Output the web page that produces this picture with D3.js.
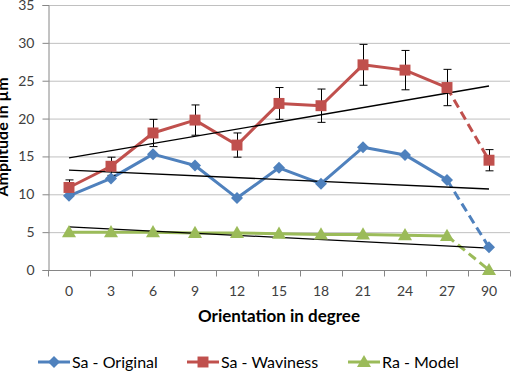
<!DOCTYPE html>
<html>
<head>
<meta charset="utf-8">
<script src="https://cdn.jsdelivr.net/npm/d3@7"></script>
<style>
  body { margin: 0; background: #fff; }
  svg { display: block; font-family: Lato, "Open Sans", sans-serif; }
</style>
</head>
<body>
<div id="chart"></div>
<script>
const categories = ["0", "3", "6", "9", "12", "15", "18", "21", "24", "27", "90"];
const saOriginal = [9.8, 12.1, 15.3, 13.8, 9.5, 13.5, 11.4, 16.2, 15.2, 11.9, 3.0];
const saWaviness = [10.9, 13.7, 18.1, 19.8, 16.5, 22.0, 21.7, 27.1, 26.4, 24.1, 14.5];
const saWavinessErr = [1.0, 1.2, 1.8, 2.0, 1.6, 2.1, 2.2, 2.7, 2.6, 2.4, 1.4];
const raModel = [5.0, 5.0, 5.0, 4.9, 4.9, 4.8, 4.7, 4.7, 4.6, 4.5, 0.0];
// linear trend lines, start/end values
const trendOriginal = [13.2, 10.7];
const trendWaviness = [14.8, 24.3];
const trendModel = [5.7, 2.9];
const yTicks = [0, 5, 10, 15, 20, 25, 30, 35];

const width = 512, height = 376;
const plot = { left: 48, right: 510, top: 5, bottom: 270 };

const svg = d3.select("#chart").append("svg")
    .attr("width", width).attr("height", height);

const xBand = d3.scaleBand().domain(categories).range([plot.left, plot.right]);
const x = d3.scalePoint().domain(categories).range([plot.left, plot.right]).padding(0.5);
const y = d3.scaleLinear().domain([0, 35]).range([plot.bottom, plot.top]);

// gridlines
svg.append("g")
    .attr("transform", `translate(${plot.left},0)`)
    .call(d3.axisLeft(y).tickValues(yTicks.filter(d => d > 0)).tickSize(-(plot.right - plot.left)).tickFormat(""))
    .call(g => g.select(".domain").remove())
    .call(g => g.selectAll("line").attr("stroke", "#c0c0c0").attr("stroke-width", 1));

// y axis
svg.append("g")
    .attr("transform", `translate(${plot.left + 0.5},0)`)
    .call(d3.axisLeft(y).tickValues(yTicks).tickSize(6).tickPadding(8))
    .call(g => g.select(".domain").attr("stroke", "#868686"))
    .call(g => g.selectAll("line").attr("stroke", "#868686"))
    .call(g => g.selectAll("text").attr("fill", "#404040").style("font-size", "14px").style("font-family", "Lato, sans-serif"));

// x axis: ticks on category boundaries
const xAxis = svg.append("g").attr("transform", `translate(0,${plot.bottom + 0.5})`);
xAxis.append("line")
    .attr("x1", plot.left).attr("x2", plot.right)
    .attr("stroke", "#868686");
xAxis.selectAll("line.tick")
    .data(categories.concat(["end"]))
    .join("line")
    .attr("class", "tick")
    .attr("x1", (d, i) => Math.round(i < categories.length ? xBand(d) : plot.right) + 0.5)
    .attr("x2", (d, i) => Math.round(i < categories.length ? xBand(d) : plot.right) + 0.5)
    .attr("y1", 0).attr("y2", 6)
    .attr("stroke", "#868686");
xAxis.selectAll("text")
    .data(categories)
    .join("text")
    .attr("x", d => x(d))
    .attr("y", 25)
    .attr("text-anchor", "middle")
    .attr("fill", "#404040")
    .style("font-size", "14px")
    .text(d => d);

// axis titles
svg.append("text")
    .attr("x", 279)
    .attr("y", 322)
    .attr("text-anchor", "middle")
    .style("font-size", "17px").style("font-weight", "bold")
    .text("Orientation in degree");

svg.append("text")
    .attr("transform", "translate(8,137) rotate(-90)")
    .attr("text-anchor", "middle")
    .style("font-size", "16px").style("font-weight", "bold")
    .text("Amplitude in µm");

const series = [
    { name: "Sa - Original", values: saOriginal, color: "#4F81BD", marker: d3.symbolSquare, rot: 45, dy: 0, size: 72, trend: trendOriginal },
    { name: "Sa - Waviness", values: saWaviness, color: "#C0504D", marker: d3.symbolSquare, rot: 0, dy: 0, size: 120, trend: trendWaviness, err: saWavinessErr },
    { name: "Ra - Model", values: raModel, color: "#9BBB59", marker: d3.symbolTriangle, rot: 0, dy: 1, size: 85, trend: trendModel }
];

const line = d3.line().x(d => x(d.c)).y(d => y(d.v));
const n = categories.length;

series.forEach(s => {
    const pts = s.values.map((v, i) => ({ c: categories[i], v }));
    // error bars
    if (s.err) {
        const eb = svg.append("g").attr("stroke", "#000").attr("stroke-width", 1);
        pts.forEach((p, i) => {
            const cx = Math.round(x(p.c)) + 0.5;
            const top = y(p.v + s.err[i]), bot = y(p.v - s.err[i]);
            eb.append("line").attr("x1", cx).attr("x2", cx).attr("y1", top).attr("y2", bot);
            eb.append("line").attr("x1", cx - 4).attr("x2", cx + 4).attr("y1", top).attr("y2", top);
            eb.append("line").attr("x1", cx - 4).attr("x2", cx + 4).attr("y1", bot).attr("y2", bot);
        });
    }
    svg.append("path").datum(pts.slice(0, n - 1))
        .attr("fill", "none").attr("stroke", s.color).attr("stroke-width", 3)
        .attr("stroke-linejoin", "round").attr("d", line);
    svg.append("path").datum(pts.slice(n - 2))
        .attr("fill", "none").attr("stroke", s.color).attr("stroke-width", 3)
        .attr("stroke-dasharray", "9,5").attr("d", line);
});

// trend lines
series.forEach(s => {
    svg.append("line")
        .attr("x1", x(categories[0])).attr("y1", y(s.trend[0]))
        .attr("x2", x(categories[n - 1])).attr("y2", y(s.trend[1]))
        .attr("stroke", "#000").attr("stroke-width", 1.3);
});

// markers
series.forEach(s => {
    svg.append("g").selectAll("path")
        .data(s.values.map((v, i) => ({ c: categories[i], v })))
        .join("path")
        .attr("transform", d => `translate(${x(d.c)},${y(d.v) + s.dy}) rotate(${s.rot})`)
        .attr("d", d3.symbol().type(s.marker).size(s.size))
        .attr("fill", s.color);
});

// legend
const legendPos = [38, 187, 348];
series.forEach((s, i) => {
    const g = svg.append("g").attr("transform", `translate(${legendPos[i]},362)`);
    g.append("line").attr("x1", 0).attr("x2", 32)
        .attr("stroke", s.color).attr("stroke-width", 3);
    g.append("path")
        .attr("transform", `translate(16,${s.dy}) rotate(${s.rot})`)
        .attr("d", d3.symbol().type(s.marker).size(s.size))
        .attr("fill", s.color);
    g.append("text")
        .attr("x", 34).attr("y", 5.5)
        .attr("fill", "#000")
        .style("font-size", "16px")
        .text(s.name);
});
</script>
</body>
</html>
